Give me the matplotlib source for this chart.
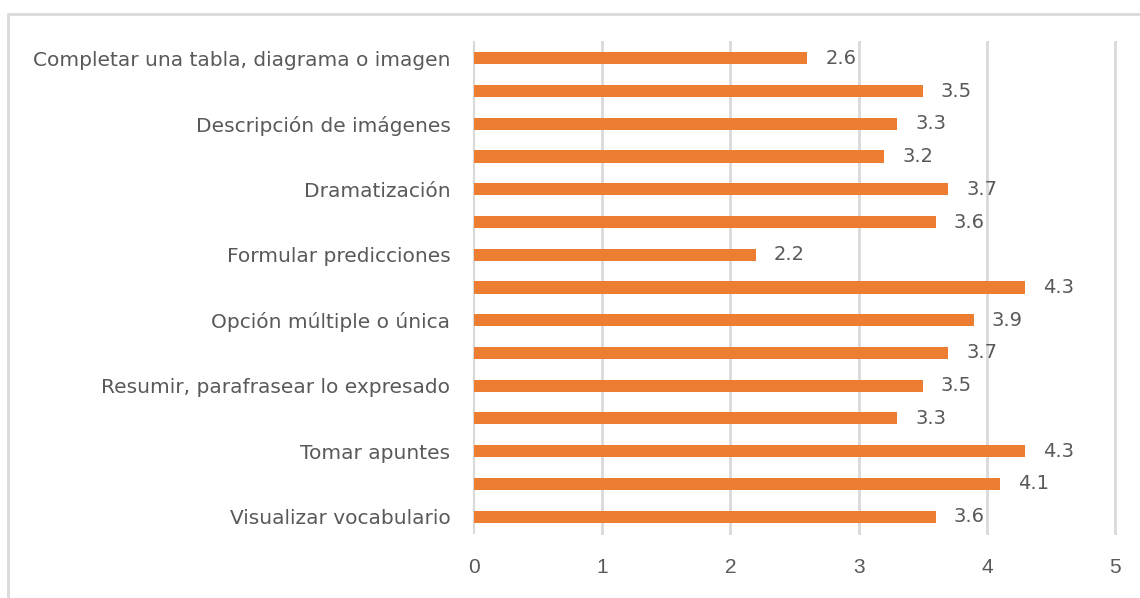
import matplotlib.pyplot as plt
from matplotlib.patches import Rectangle

labels = ['Completar una tabla, diagrama o imagen', '', 'Descripción de imágenes', '',
          'Dramatización', '', 'Formular predicciones', '', 'Opción múltiple o única', '',
          'Resumir, parafrasear lo expresado', '', 'Tomar apuntes', '', 'Visualizar vocabulario']
valores = [2.6, 3.5, 3.3, 3.2, 3.7, 3.6, 2.2, 4.3, 3.9, 3.7, 3.5, 3.3, 4.3, 4.1, 3.6]

gris = '#595959'
naranja = '#ED7D31'
plt.rcParams['font.family'] = 'DejaVu Sans'

fig = plt.figure(figsize=(11.4, 5.98), dpi=100)
ax = fig.add_axes([0.4158, 0.1087, 0.5623, 0.8211])

pos = list(range(len(valores)))
ax.barh(pos, valores, height=0.37, color=naranja, zorder=3)
for p, v in zip(pos, valores):
    ax.text(v + 0.14, p, f'{v:.1f}', va='center', ha='left', fontsize=14, color=gris)

ax.set_ylim(len(valores) - 0.5, -0.5)
ax.set_xlim(0, 5)
ax.set_xticks(range(6))
ax.set_yticks(pos)
ax.set_yticklabels(labels, fontsize=14.5, color=gris)
ax.tick_params(axis='x', length=0, pad=18)
for t in ax.get_xticklabels():
    t.set_fontfamily('Liberation Sans')
    t.set_fontsize(15)
    t.set_color(gris)
ax.tick_params(axis='y', length=0, pad=17)
for x in range(1, 6):
    ax.axvline(x, color='#d9d9d9', linewidth=2, zorder=0, clip_on=False)
for s in ['top', 'right', 'bottom']:
    ax.spines[s].set_visible(False)
ax.spines['left'].set_color('#d9d9d9')
ax.spines['left'].set_linewidth(1.5)

# borde del grafico
fig.patches.append(Rectangle((8 / 1140, -0.1), 1.2, 1 - 14 / 598 + 0.1,
                             transform=fig.transFigure, fill=False,
                             edgecolor='#d9d9d9', linewidth=2))

fig.savefig('out.png', dpi=100)
